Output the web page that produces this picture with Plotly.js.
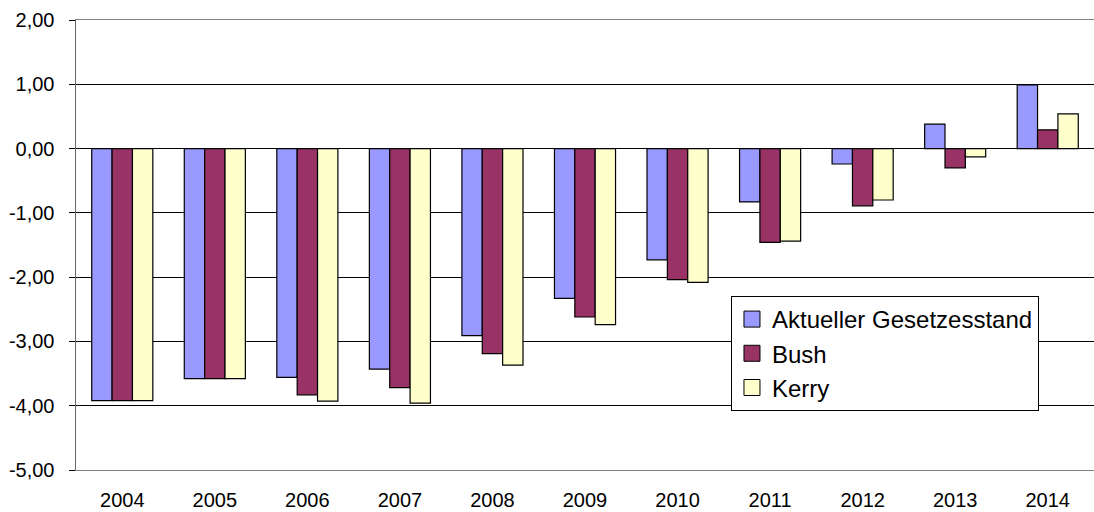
<!DOCTYPE html>
<html>
<head>
<meta charset="utf-8">
<script src="https://cdn.plot.ly/plotly-3.0.1.min.js"></script>
<style>html,body{margin:0;padding:0;background:#fff;}#chart{width:1094px;height:512px;}</style>
</head>
<body>
<div id="chart"></div>
<script>
var years = ['2004','2005','2006','2007','2008','2009','2010','2011','2012','2013','2014'];
var aktuell = [-3.92, -3.58, -3.56, -3.43, -2.91, -2.33, -1.73, -0.83, -0.24, 0.38, 0.99];
var bush    = [-3.92, -3.58, -3.83, -3.72, -3.19, -2.62, -2.04, -1.46, -0.89, -0.30, 0.29];
var kerry   = [-3.92, -3.58, -3.93, -3.96, -3.37, -2.74, -2.08, -1.44, -0.80, -0.13, 0.54];
var seriesNames = ['Aktueller Gesetzesstand', 'Bush', 'Kerry'];
var seriesColors = ['#9999FF', '#993366', '#FFFFCC'];
var yTickVals = [-5, -4, -3, -2, -1, 0, 1, 2];
var yTickText = ['-5,00', '-4,00', '-3,00', '-2,00', '-1,00', '0,00', '1,00', '2,00'];

var fam = 'Liberation Sans, Arial, sans-serif';
var seriesVals = [aktuell, bush, kerry];
var traces = [];
seriesVals.forEach(function(vals, i) {
  traces.push({type: 'bar', name: seriesNames[i], x: years, y: vals, legendgroup: 'g' + i, showlegend: false,
    marker: {color: seriesColors[i], line: {color: '#000', width: 1.2}}, hoverinfo: 'x+y'});
});
// legend entries with larger square keys
seriesNames.forEach(function(name, i) {
  traces.push({type: 'scatter', mode: 'markers', name: name, x: [null], y: [null], legendgroup: 'g' + i,
    marker: {symbol: 'square', size: 16, color: seriesColors[i], line: {color: '#000', width: 1}}});
});
var boundaries = years.slice(1).map(function(_, i){ return i + 0.5; });

var layout = {
  width: 1094, height: 512,
  margin: {l: 76, r: 0, t: 20, b: 42},
  paper_bgcolor: '#fff', plot_bgcolor: '#fff',
  font: {family: fam, size: 20, color: '#000'},
  barmode: 'group', bargap: 0.34, bargroupgap: 0,
  showlegend: true,
  legend: {x: 0.6434, y: 0.3867, xanchor: 'left', yanchor: 'top',
    bordercolor: '#000', borderwidth: 1, bgcolor: '#fff',
    font: {family: fam, size: 24, color: '#000'},
    itemwidth: 30, tracegroupgap: 0},
  xaxis: {type: 'category', showgrid: false, showline: true, linecolor: '#808080', linewidth: 1,
    mirror: true, ticks: '', tickfont: {size: 20}, ticklabelstandoff: 12, zeroline: false},
  xaxis2: {overlaying: 'x', anchor: 'free', position: 5/7, type: 'linear', range: [-0.5, years.length - 0.5],
    showgrid: false, showline: true, linecolor: '#000', linewidth: 1, ticks: 'outside', ticklen: 6,
    tickcolor: '#000', tickvals: boundaries, showticklabels: false, zeroline: false},
  yaxis: {range: [-5, 2], tickvals: yTickVals, ticktext: yTickText, showgrid: true, gridcolor: '#000', gridwidth: 1,
    showline: true, linecolor: '#666', linewidth: 1.5, ticks: 'outside', ticklen: 6, tickcolor: '#000',
    zeroline: false, tickfont: {size: 20}, ticklabelstandoff: 10}
};
Plotly.newPlot('chart', traces, layout, {displayModeBar: false, staticPlot: true});
</script>
</body>
</html>
